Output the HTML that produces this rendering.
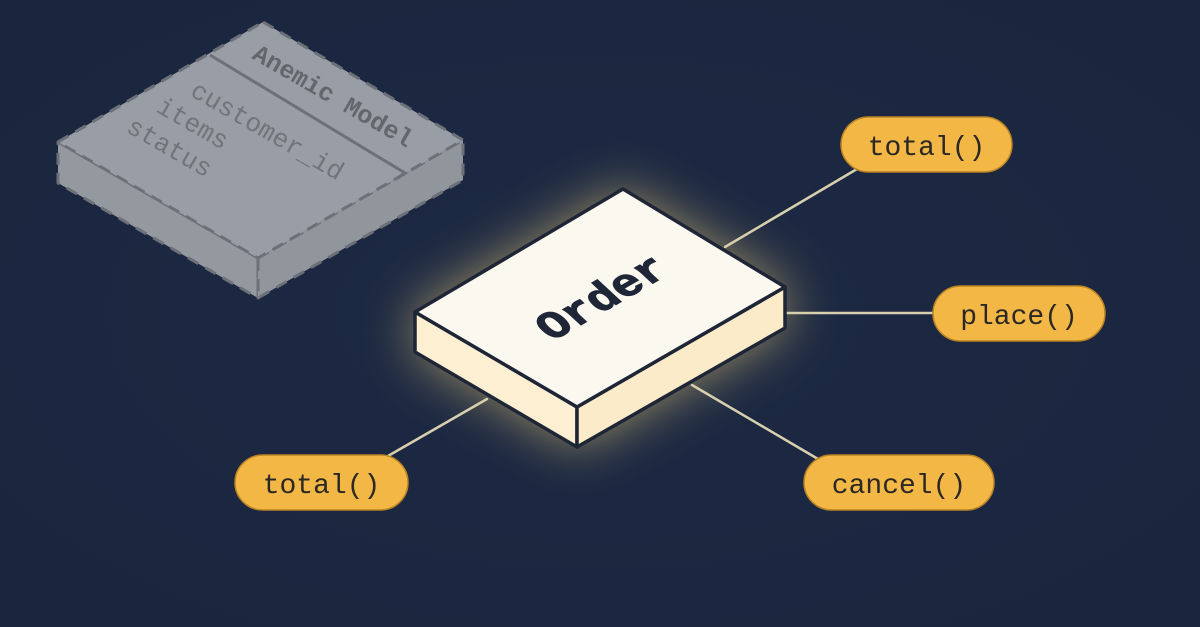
<!DOCTYPE html>
<html>
<head>
<meta charset="utf-8">
<style>
  html, body { margin:0; padding:0; }
  body { width:1200px; height:627px; overflow:hidden; background:#1c2841; }
  svg { display:block; }
</style>
</head>
<body>
<svg width="1200" height="627" viewBox="0 0 1200 627" xmlns="http://www.w3.org/2000/svg">
  <defs>
    <filter id="glow" x="-50%" y="-50%" width="200%" height="200%">
      <feGaussianBlur stdDeviation="26"/>
    </filter>
    <radialGradient id="bg" cx="50%" cy="50%" r="75%">
      <stop offset="0" stop-color="#1d2a44"/>
      <stop offset="1" stop-color="#1a253d"/>
    </radialGradient>
  </defs>
  <rect x="0" y="0" width="1200" height="627" fill="url(#bg)"/>

  <!-- Anemic model box -->
  <g stroke="#6c7078" stroke-width="3" stroke-dasharray="12 8" stroke-linejoin="round">
    <polygon points="58,142 258,258 258,298 58,183" fill="#94989f"/>
    <polygon points="258,258 463,140 463,180 258,298" fill="#91959c"/>
    <polygon points="263,22 463,140 258,258 58,142" fill="#999da5"/>
  </g>
  <polyline points="210,55 405,173 398,178" fill="none" stroke="#6c7078" stroke-width="3"/>
  <g font-family="'Liberation Mono', 'DejaVu Sans Mono', monospace">
    <text transform="translate(329,103) rotate(30)" text-anchor="middle" font-size="25" font-weight="bold" fill="#62666d">Anemic Model</text>
    <text transform="translate(189,95) rotate(30)" font-size="26" fill="#70747b">customer_id</text>
    <text transform="translate(155,111) rotate(30)" font-size="26" fill="#70747b">items</text>
    <text transform="translate(125,131) rotate(30)" font-size="26" fill="#70747b">status</text>
  </g>

  <!-- Glow -->
  <polygon points="623,189 785,287 785,328 577,447 415,352 415,312" fill="#f6d57c" opacity="0.6" filter="url(#glow)"/>

  <!-- Connectors -->
  <g stroke="#d8cfae" stroke-width="2.5" stroke-linecap="round">
    <line x1="857" y1="169" x2="725" y2="247"/>
    <line x1="785" y1="313" x2="933" y2="313"/>
    <line x1="388" y1="456" x2="487" y2="399"/>
    <line x1="692" y1="385" x2="818" y2="459"/>
  </g>

  <!-- Order box -->
  <g stroke="#1e2536" stroke-width="3.5" stroke-linejoin="round">
    <polygon points="415,312 577,407 577,447 415,352" fill="#fcefd2"/>
    <polygon points="577,407 785,287 785,328 577,447" fill="#fbebc8"/>
    <polygon points="623,189 785,287 577,407 415,312" fill="#fbf9ef"/>
  </g>
  <text transform="matrix(0.866,-0.5,0.71,0.66,612,307)" text-anchor="middle" font-family="'Liberation Mono', 'DejaVu Sans Mono', monospace" font-size="46" font-weight="bold" fill="#1f2638" stroke="#1f2638" stroke-width="1.2">Order</text>

  <!-- Pills -->
  <g font-family="'Liberation Mono', 'DejaVu Sans Mono', monospace" font-size="28" fill="#2a2724" text-anchor="middle">
    <rect x="841" y="117" width="171" height="55" rx="27.5" fill="#f2b745" stroke="#b98324" stroke-width="1.5"/>
    <text x="926.5" y="155">total()</text>

    <rect x="933" y="286" width="172" height="55" rx="27.5" fill="#f2b745" stroke="#b98324" stroke-width="1.5"/>
    <text x="1019" y="324">place()</text>

    <rect x="235" y="455" width="173" height="55" rx="27.5" fill="#f2b745" stroke="#b98324" stroke-width="1.5"/>
    <text x="321.5" y="493">total()</text>

    <rect x="804" y="455" width="190" height="55" rx="27.5" fill="#f2b745" stroke="#b98324" stroke-width="1.5"/>
    <text x="899" y="493">cancel()</text>
  </g>
</svg>
</body>
</html>
